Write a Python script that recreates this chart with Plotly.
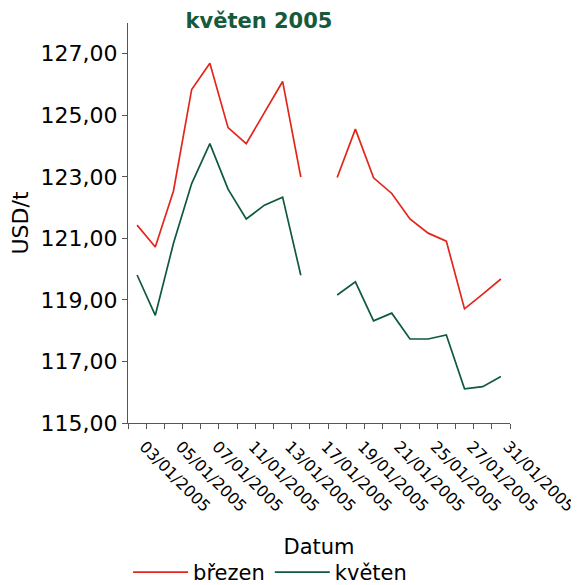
import plotly.graph_objects as go

# Working days of January 2005 (17/01 has no quote)
dates = ["03/01/2005", "04/01/2005", "05/01/2005", "06/01/2005", "07/01/2005",
         "10/01/2005", "11/01/2005", "12/01/2005", "13/01/2005", "14/01/2005",
         "17/01/2005", "18/01/2005", "19/01/2005", "20/01/2005", "21/01/2005",
         "24/01/2005", "25/01/2005", "26/01/2005", "27/01/2005", "28/01/2005",
         "31/01/2005"]

brezen = [121.43, 120.72, 122.54, 125.84, 126.69, 124.60, 124.08, 125.10, 126.10, 122.99,
          None, 122.98, 124.55, 122.97, 122.46, 121.63, 121.17, 120.91, 118.71, 119.19, 119.68]

kveten = [119.81, 118.50, 120.84, 122.78, 124.08, 122.60, 121.63, 122.08, 122.34, 119.80,
          None, 119.16, 119.59, 118.32, 118.57, 117.73, 117.73, 117.86, 116.11, 116.18, 116.51]

# only every other date gets a label
tick_text = [d if i % 2 == 0 else "" for i, d in enumerate(dates)]

font = "DejaVu Sans"

fig = go.Figure()
fig.add_trace(go.Scatter(x=dates, y=brezen, mode="lines", name="březen",
                         line=dict(color="#e3261b", width=1.7)))
fig.add_trace(go.Scatter(x=dates, y=kveten, mode="lines", name="květen",
                         line=dict(color="#0f5a3b", width=1.7)))

# page has an 8px body margin, so the figure is a bit smaller than the window
fig.update_layout(
    width=571, height=577,
    margin=dict(l=120, r=69, t=14.5, b=161.7, autoexpand=False),
    plot_bgcolor="white", paper_bgcolor="white",
    separators=", ",
    font=dict(family=font, color="black"),
    title=dict(text="<b>květen 2005</b>", x=251 / 571, xanchor="center",
               y=1 - 13 / 577, yanchor="middle", automargin=False,
               font=dict(family=font, size=21, color="#17593b")),
    showlegend=True,
    legend=dict(orientation="h", x=0.372, xanchor="center",
                y=-0.3735, yanchor="middle", font=dict(size=21),
                itemwidth=55),
)

fig.update_xaxes(
    type="category", tickvals=dates, ticktext=tick_text, tickson="boundaries",
    tickangle=45, tickfont=dict(size=16), automargin=False,
    ticklabelstandoff=7, ticklabelshift=7,
    ticks="outside", ticklen=5, tickcolor="#555555",
    showline=True, linecolor="#555555", linewidth=1, showgrid=False,
    range=[-0.5, 20.5],
    title=dict(text="Datum", font=dict(size=21), standoff=24),
)
fig.update_yaxes(
    range=[115, 128], tick0=115, dtick=2, tickformat=".2f",
    tickfont=dict(size=22), automargin=False,
    ticks="outside", ticklen=5, tickcolor="#555555",
    showline=True, linecolor="#555555", linewidth=1, showgrid=False, zeroline=False,
    title=dict(text="USD/t", font=dict(size=22), standoff=8),
)

fig.write_html("out.html")
